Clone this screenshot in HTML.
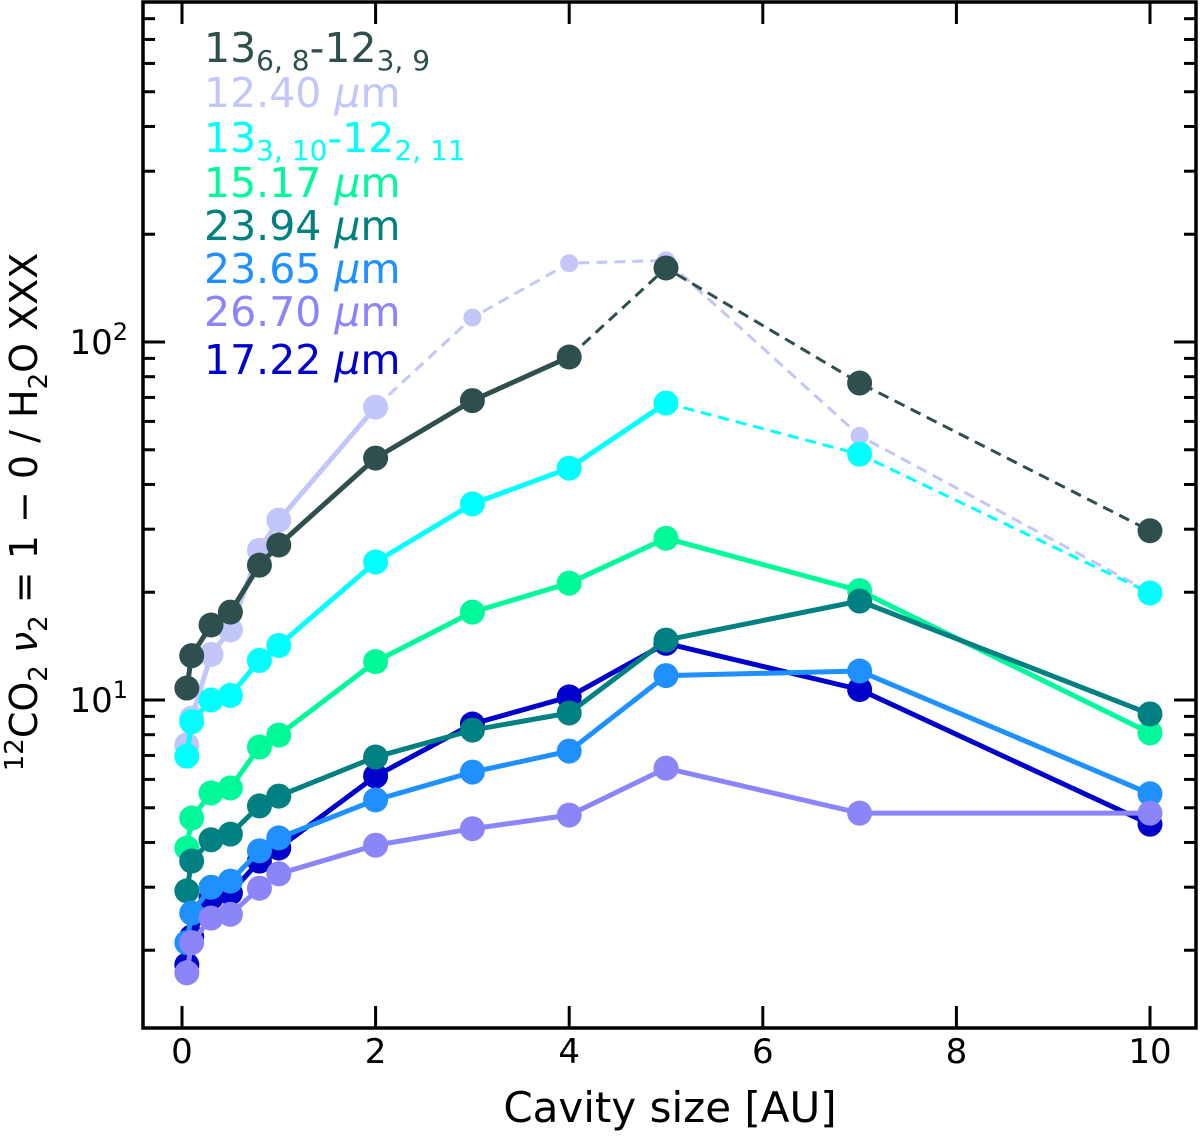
<!DOCTYPE html>
<html><head><meta charset="utf-8"><style>
html,body{margin:0;padding:0;background:#fff;}
svg text{font-family:"DejaVu Sans","Liberation Sans",sans-serif;}
</style></head><body>
<svg id="chart" width="1200" height="1131" viewBox="0 0 1200 1131" xmlns="http://www.w3.org/2000/svg">
<g id="plot"></g>
<g id="axes"></g>
<g id="legend"></g>
</svg>
<script>
const xValues = [0.05, 0.1, 0.3, 0.5, 0.8, 1, 2, 3, 4, 5, 7, 10];
const seriesNames = ["13_{6,8}-12_{3,9}", "12.40 µm", "13_{3,10}-12_{2,11}", "15.17 µm", "23.94 µm", "23.65 µm", "26.70 µm", "17.22 µm"];
const slateValues = [10.8, 13.3, 16.2, 17.6, 23.8, 27.1, 47.4, 68.6, 90.8, 161, 76.8, 29.7];
const lavenderValues = [7.49, 8.9, 13.4, 15.7, 26.2, 31.8, 65.8, 117, 166, 169, 54.7, 20.0];
const cyanValues = [6.97, 8.7, 10.0, 10.3, 12.9, 14.2, 24.3, 35.3, 44.4, 67.5, 48.6, 19.9];
const greenValues = [3.86, 4.68, 5.5, 5.68, 7.39, 7.98, 12.8, 17.6, 21.2, 28.3, 20.2, 8.09];
const tealValues = [2.93, 3.55, 4.07, 4.22, 5.06, 5.39, 6.93, 8.24, 9.2, 14.7, 18.9, 9.14];
const blueValues = [2.1, 2.54, 3.0, 3.12, 3.79, 4.12, 5.26, 6.29, 7.2, 11.7, 12.05, 5.47];
const purpleValues = [1.73, 2.10, 2.46, 2.52, 2.98, 3.27, 3.93, 4.37, 4.77, 6.45, 4.83, 4.83];
const darkBlueValues = [1.82, 2.18, 2.8, 2.89, 3.55, 3.86, 6.13, 8.57, 10.2, 14.4, 10.7, 4.5];
const xTickValues = [0, 2, 4, 6, 8, 10];
const yMajorTicks = [10, 100];
const yTickLabels = ["1", "2"];

const NS = "http://www.w3.org/2000/svg";
const L = 143, R = 1196, T = 2, B = 1028;
function xs(v){ return 182 + v * 96.8; }
function ys(v){ return 700 - (Math.log10(v) - 1) * 358; }
function mk(tag, attrs, parent){ const e = document.createElementNS(NS, tag); for (const k in attrs) e.setAttribute(k, attrs[k]); parent.appendChild(e); return e; }

const plot = document.getElementById('plot');
const axes = document.getElementById('axes');
const legend = document.getElementById('legend');

const series = [
  {key:'dark-blue', vals: darkBlueValues, color:'#0000cd', dashFrom: 99, small:false},
  {key:'lavender', vals: lavenderValues, color:'#c3c6f9', dashFrom: 6, small:true},
  {key:'slate', vals: slateValues, color:'#2f4f4f', dashFrom: 8, small:false},
  {key:'cyan', vals: cyanValues, color:'#00ffff', dashFrom: 9, small:false},
  {key:'green', vals: greenValues, color:'#00fa9a', dashFrom: 99, small:false},
  {key:'teal', vals: tealValues, color:'#008080', dashFrom: 99, small:false},
  {key:'blue', vals: blueValues, color:'#1e90ff', dashFrom: 99, small:false},
  {key:'purple', vals: purpleValues, color:'#8c85fa', dashFrom: 99, small:false}
];
series.forEach(s => {
  const g = mk('g', {}, plot);
  
  
  let solid = '', dashed = '';
  s.vals.forEach((v, i) => {
    const p = xs(xValues[i]).toFixed(1) + ',' + ys(v).toFixed(1);
    if (i <= s.dashFrom) solid += (solid ? ' ' : '') + p;
    if (i >= s.dashFrom) dashed += (dashed ? ' ' : '') + p;
  });
  if (solid.split(' ').length > 1) {
    const pl = mk('polyline', {points: solid, fill:'none', stroke:s.color, 'stroke-width':5, 'stroke-linejoin':'round'}, g);
    
    
  }
  if (s.dashFrom < s.vals.length - 1) {
    const pd = mk('polyline', {points: dashed, fill:'none', stroke:s.color, 'stroke-width':3, 'stroke-dasharray':'11,7'}, g);
    
    
  }
  s.vals.forEach((v, i) => {
    const r = (s.small && i > s.dashFrom) ? 9 : 12.5;
    const c = mk('circle', {cx: xs(xValues[i]), cy: ys(v), r: r, fill: s.color}, g);
    
    
  });
});

const fr = mk('rect', {x:L, y:T, width:R-L, height:B-T, fill:'none', stroke:'#000', 'stroke-width':3.5}, axes);


xTickValues.forEach(v => {
  const x = xs(v);
  mk('line', {x1:x, x2:x, y1:B, y2:B-22, stroke:'#000', 'stroke-width':3}, axes);
  mk('line', {x1:x, x2:x, y1:T, y2:T+22, stroke:'#000', 'stroke-width':3}, axes);
  const t = mk('text', {x:x, y:1063, 'font-size':34, 'text-anchor':'middle', fill:'#000'}, axes);
  t.textContent = String(v);
  
  
});
for (let d = 1; d <= 100; d *= 10) {
  for (let m = 1; m <= 9; m++) {
    const v = d * m; const y = ys(v);
    if (y < T || y > B) continue;
    const len = m === 1 ? 22 : 12;
    mk('line', {x1:L, x2:L+len, y1:y, y2:y, stroke:'#000', 'stroke-width':3}, axes);
    mk('line', {x1:R, x2:R-len, y1:y, y2:y, stroke:'#000', 'stroke-width':3}, axes);
  }
}
yMajorTicks.forEach((v, i) => {
  const t = mk('text', {x:128, y:ys(v)+12, 'font-size':34, 'text-anchor':'end', fill:'#000'}, axes);
  t.innerHTML = '10<tspan dy="-14" font-size="24">' + yTickLabels[i] + '</tspan>';
  
  
});
const xt = mk('text', {x:670, y:1122, 'font-size':42, 'text-anchor':'middle', fill:'#000'}, axes);
xt.textContent = 'Cavity size [AU]';


const yt = mk('text', {x:0, y:0, 'font-size':38, 'text-anchor':'middle', fill:'#000', transform:'translate(37,512) rotate(-90)'}, axes);
yt.innerHTML = '<tspan dy="-14" font-size="26">12</tspan><tspan dy="14">CO</tspan><tspan dy="10" font-size="26">2</tspan><tspan dy="-10" font-style="italic"> ν</tspan><tspan dy="10" font-size="26">2</tspan><tspan dy="-10"> = 1 − 0 / H</tspan><tspan dy="10" font-size="26">2</tspan><tspan dy="-10">O XXX</tspan>';



const legColors = ['#2f4f4f', '#c3c6f9', '#00ffff', '#00fa9a', '#008080', '#1e90ff', '#8c85fa', '#0000cd'];
const legY = [62, 107, 152, 197, 240, 283, 326, 374];
const legHtml = [
  '13<tspan dy="8" font-size="28">6, 8</tspan><tspan dy="-8">-12</tspan><tspan dy="8" font-size="28">3, 9</tspan>',
  '12.40 <tspan font-style="italic">µ</tspan>m',
  '13<tspan dy="8" font-size="28">3, 10</tspan><tspan dy="-8">-12</tspan><tspan dy="8" font-size="28">2, 11</tspan>',
  '15.17 <tspan font-style="italic">µ</tspan>m',
  '23.94 <tspan font-style="italic">µ</tspan>m',
  '23.65 <tspan font-style="italic">µ</tspan>m',
  '26.70 <tspan font-style="italic">µ</tspan>m',
  '17.22 <tspan font-style="italic">µ</tspan>m'
];
seriesNames.forEach((n, i) => {
  const t = mk('text', {x:204, y:legY[i], 'font-size':41, fill:legColors[i]}, legend);
  t.innerHTML = legHtml[i];
  
  
});
</script>
</body></html>
